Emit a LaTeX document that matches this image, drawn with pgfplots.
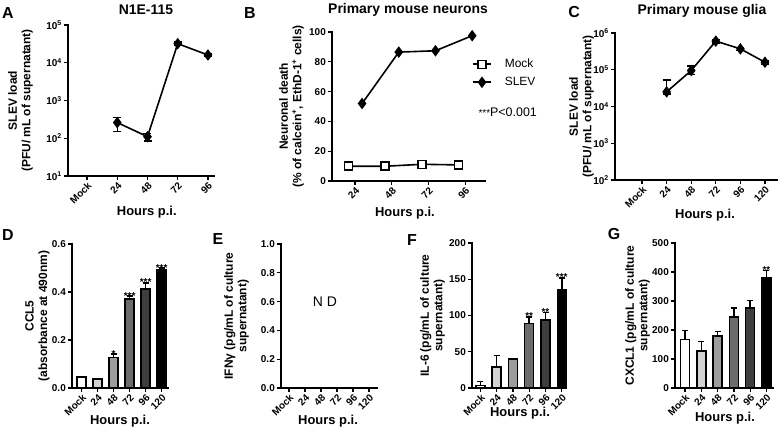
\documentclass[border=0pt]{standalone}
\usepackage{fontspec}
\setmainfont{Liberation Sans}
\usepackage{pgfplots}
\pgfplotsset{compat=1.18}
\definecolor{g24}{HTML}{D2D2D2}
\definecolor{g48}{HTML}{9C9C9C}
\definecolor{g72}{HTML}{6C6C6C}
\definecolor{g96}{HTML}{3E3E3E}
\newcommand{\tk}{\fontsize{10}{12}\selectfont\bfseries}
\newcommand{\lb}{\fontsize{12}{13.5}\selectfont\bfseries}
\newcommand{\st}{\fontsize{10}{10}\selectfont\bfseries}
\pgfplotsset{
  gp/.style={
    scale only axis,
    axis lines=left,
    axis line style={-, line width=1.6bp, line cap=rect},
    every tick/.style={black, line width=1.3bp},
    tick align=outside,
    major tick length=4bp,
    tick label style={font=\tk},
    xticklabel style={rotate=45, anchor=north east, inner sep=1bp},
    yticklabel style={inner sep=2bp},
    ylabel style={font=\lb, align=center, anchor=center},
    xlabel style={font=\fontsize{13}{15}\selectfont\bfseries, anchor=center},
    every axis title shift=0pt,
    title style={font=\fontsize{14}{16}\selectfont\bfseries, anchor=center},
    clip=false,
  },
  bars/.style={ybar, bar width=9bp, bar shift=0pt, draw=black, line width=1.5bp,
    error bars/y dir=plus, error bars/y explicit,
    error bars/error bar style={line width=1.5bp, black},
    error bars/error mark options={rotate=90, line width=1.5bp, mark size=3bp, black}},
  lp/.style={black, line width=1.6bp, mark=diamond*, mark size=4.5bp,
    error bars/y dir=both, error bars/y explicit,
    error bars/error bar style={line width=1.4bp, black},
    error bars/error mark options={rotate=90, line width=1.4bp, mark size=4bp, black}},
  barax/.style={gp, xtick={0,...,5}, xticklabels={Mock,24,48,72,96,120}, ymin=0, xlabel={Hours p.i.}},
}
\begin{document}
\begin{tikzpicture}[x=1bp,y=1bp]
\useasboundingbox (0,0) rectangle (778,434);

% ---------- A ----------
\begin{axis}[gp, at={(68bp,258bp)}, anchor=south west, width=146bp, height=151bp,
  xmin=-0.63, xmax=4.2, ymode=log, ymin=10, ymax=1e5, yminorticks=false,
  xtick={0,...,4}, xticklabels={Mock,24,48,72,96},
  ytick={10,100,1000,10000,100000},
  yticklabels={10\textsuperscript{1},10\textsuperscript{2},10\textsuperscript{3},10\textsuperscript{4},10\textsuperscript{5}},
  ylabel={SLEV load\\(PFU/ mL of supernatant)},
  ylabel style={at={(axis description cs:-0.325,0.5)}},
  xlabel={Hours p.i.}, xlabel style={at={(axis description cs:0.54,-0.238)}},
  title={N1E-115}, title style={at={(axis description cs:0.534,1.099)}}]
\addplot[lp] coordinates {(1,260) += (0,100) -= (0,110) (2,110) +- (0,25) (3,32000) +- (0,3000) (4,16000) +- (0,1500)};
\end{axis}

% ---------- B ----------
\begin{axis}[gp, at={(332bp,253bp)}, anchor=south west, width=153bp, height=149bp,
  xmin=-0.63, xmax=3.54, ymin=0, ymax=100,
  xtick={0,...,3}, xticklabels={24,48,72,96},
  ytick={0,20,40,60,80,100}, yticklabels={0,20,40,60,80,100},
  ylabel={Neuronal death\\(\% of calcein\textsuperscript{+}, EthD-1\textsuperscript{+} cells)},
  ylabel style={at={(axis description cs:-0.265,0.5)}},
  xlabel={Hours p.i.}, xlabel style={at={(axis description cs:0.477,-0.215)}},
  title={Primary mouse neurons}, title style={at={(axis description cs:0.497,1.148)}},
  legend style={at={(axis description cs:0.915,0.832)}, anchor=north west, draw=none, fill=none,
    font=\fontsize{12}{14}\selectfont, row sep=4bp, column sep=11bp, inner sep=0pt, cells={anchor=west}},
  legend image code/.code={\draw[mark repeat=2,mark phase=2] plot coordinates {(0bp,0bp) (9bp,0bp) (18bp,0bp)};}]
\addplot[black, line width=1.6bp, mark=square*, mark size=4bp, mark options={fill=white, line width=1.5bp}]
  coordinates {(-0.18,9.9) (0.82,9.9) (1.82,11.2) (2.82,10.8)};
\addlegendentry{Mock}
\addplot[black, line width=1.6bp, mark=diamond*, mark size=4.5bp, mark options={fill=black}]
  coordinates {(0.19,52) (1.19,86.5) (2.19,87.4) (3.19,97.5)};
\addlegendentry{SLEV}
\end{axis}
\node[anchor=west, font=\fontsize{12.5}{14}\selectfont] at (475,322) {{\fontsize{10}{10}\selectfont ***}P<0.001};

% ---------- C ----------
\begin{axis}[gp, at={(615bp,254bp)}, anchor=south west, width=162bp, height=147bp,
  xmin=-1.1, xmax=5.49, ymode=log, ymin=100, ymax=1e6, yminorticks=false,
  xtick={0,...,5}, xticklabels={Mock,24,48,72,96,120},
  ytick={100,1000,10000,100000,1000000},
  yticklabels={10\textsuperscript{2},10\textsuperscript{3},10\textsuperscript{4},10\textsuperscript{5},10\textsuperscript{6}},
  ylabel={SLEV load\\(PFU/ mL of supernatant)},
  ylabel style={at={(axis description cs:-0.207,0.5)}},
  xlabel={Hours p.i.}, xlabel style={at={(axis description cs:0.556,-0.238)}},
  title={Primary mouse glia}, title style={at={(axis description cs:0.537,1.15)}}]
\addplot[lp] coordinates {(1,25000) += (0,28000) -= (0,3000) (2,95000) += (0,30000) -= (0,20000) (3,600000) +- (0,60000) (4,370000) +- (0,30000) (5,160000) +- (0,15000)};
\end{axis}

% ---------- D ----------
\begin{axis}[barax, at={(72bp,46bp)}, anchor=south west, width=96bp, height=144bp,
  xmin=-0.6, xmax=5.4, ymax=0.6,
  ytick={0,0.2,0.4,0.6}, yticklabels={0.0,0.2,0.4,0.6},
  ylabel={CCL5\\(absorbance at 490nm)},
  ylabel style={at={(axis description cs:-0.36,0.5)}},
  xlabel style={at={(axis description cs:0.5,-0.229)}}]
\addplot[bars, fill=white] coordinates {(0,0.045) +- (0,0.003)};
\addplot[bars, fill=g24] coordinates {(1,0.037) +- (0,0.002)};
\addplot[bars, fill=g48] coordinates {(2,0.128) +- (0,0.013)};
\addplot[bars, fill=g72] coordinates {(3,0.370) +- (0,0.013)};
\addplot[bars, fill=g96] coordinates {(4,0.413) +- (0,0.025)};
\addplot[bars, fill=black] coordinates {(5,0.492) +- (0,0.007)};
\node[anchor=base, yshift=-3bp, font=\st, inner sep=0pt] at (axis cs:2,0.141) {*};
\node[anchor=base, yshift=-3bp, font=\st, inner sep=0pt] at (axis cs:3,0.383) {***};
\node[anchor=base, yshift=-3bp, font=\st, inner sep=0pt] at (axis cs:4,0.438) {***};
\node[anchor=base, yshift=-3bp, font=\st, inner sep=0pt] at (axis cs:5,0.499) {***};
\end{axis}

% ---------- E ----------
\begin{axis}[barax, at={(281bp,46bp)}, anchor=south west, width=96bp, height=144bp,
  xmin=-0.5, xmax=5.5, ymax=1,
  ytick={0,0.2,0.4,0.6,0.8,1}, yticklabels={0.0,0.2,0.4,0.6,0.8,1.0},
  ylabel={IFNγ (pg/mL of culture\\supernatant)},
  ylabel style={at={(axis description cs:-0.464,0.5)}},
  xlabel style={at={(axis description cs:0.49,-0.229)}}]
\node[font=\fontsize{14}{16}\selectfont] at (axis cs:2.25,0.6) {N D};
\end{axis}

% ---------- F ----------
\begin{axis}[barax, at={(472bp,46bp)}, anchor=south west, width=93bp, height=145bp,
  xmin=-0.52, xmax=5.2, ymax=200,
  ytick={0,50,100,150,200}, yticklabels={0,50,100,150,200},
  ylabel={IL-6 (pg/mL of culture\\supernatant)},
  ylabel style={at={(axis description cs:-0.425,0.5)}},
  xlabel style={at={(axis description cs:0.516,-0.172)}}]
\addplot[bars, fill=white] coordinates {(0,3.5) +- (0,5.5)};
\addplot[bars, fill=g24] coordinates {(1,29) +- (0,16)};
\addplot[bars, fill=g48] coordinates {(2,40) +- (0,1)};
\addplot[bars, fill=g72] coordinates {(3,89) +- (0,9)};
\addplot[bars, fill=g96] coordinates {(4,94) +- (0,10)};
\addplot[bars, fill=black] coordinates {(5,136) +- (0,16)};
\node[anchor=base, yshift=-3bp, font=\st, inner sep=0pt] at (axis cs:3,98) {**};
\node[anchor=base, yshift=-3bp, font=\st, inner sep=0pt] at (axis cs:4,104) {**};
\node[anchor=base, yshift=-3bp, font=\st, inner sep=0pt] at (axis cs:5,152) {***};
\end{axis}

% ---------- G ----------
\begin{axis}[barax, at={(675bp,46bp)}, anchor=south west, width=98bp, height=145bp,
  xmin=-0.61, xmax=5.4, ymax=500,
  ytick={0,100,200,300,400,500}, yticklabels={0,100,200,300,400,500},
  ylabel={CXCL1 (pg/mL of culture\\supernatant)},
  ylabel style={at={(axis description cs:-0.383,0.5)}},
  xlabel style={at={(axis description cs:0.51,-0.207)}}]
\addplot[bars, fill=white] coordinates {(0,168) +- (0,30)};
\addplot[bars, fill=g24] coordinates {(1,128) +- (0,33)};
\addplot[bars, fill=g48] coordinates {(2,180) +- (0,15)};
\addplot[bars, fill=g72] coordinates {(3,244) +- (0,32)};
\addplot[bars, fill=g96] coordinates {(4,275) +- (0,26)};
\addplot[bars, fill=black] coordinates {(5,380) +- (0,25)};
\node[anchor=base, yshift=-3bp, font=\st, inner sep=0pt] at (axis cs:5,405) {**};
\end{axis}

% panel letters
\begin{scope}[every node/.style={font=\fontsize{16}{18}\selectfont\bfseries}]
\node at (8,421) {A};
\node at (250,421) {B};
\node at (574,422) {C};
\node at (8,199) {D};
\node at (218,195) {E};
\node at (412,194) {F};
\node at (614,200) {G};
\end{scope}
\end{tikzpicture}
\end{document}
